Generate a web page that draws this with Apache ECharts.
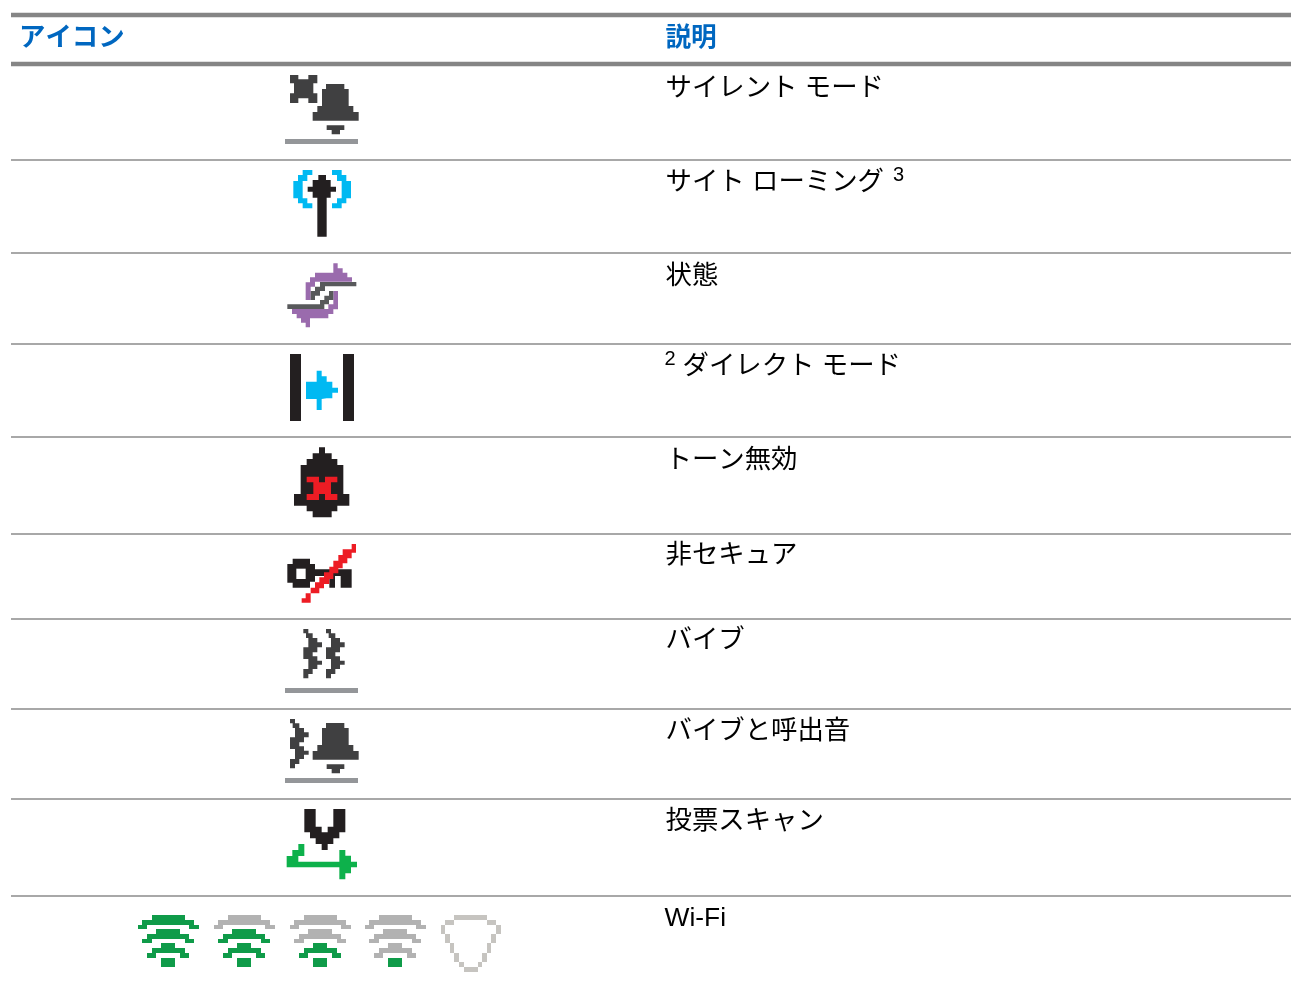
<!DOCTYPE html>
<html lang="ja">
<head>
<meta charset="utf-8">
<title>アイコン</title>
<style>html,body{margin:0;padding:0;background:#fff}#c{width:1291px;height:994px}</style>
<script src="https://cdn.jsdelivr.net/npm/echarts@6/dist/echarts.min.js"></script>
</head>
<body>
<div id="c"></div>
<script>
// ---- table content ----
const columnHeaders = ['アイコン', '説明'];
const rowLabels = ['サイレント モード', 'サイト ローミング', '状態', 'ダイレクト モード', 'トーン無効', '非セキュア', 'バイブ', 'バイブと呼出音', '投票スキャン', 'Wi-Fi'];
const footnotes = ['3', '2'];
const headerRules = [15, 64];
const rowRules = [160, 253, 344, 437, 534, 619, 709, 799, 896];

// ---- palette ----
const C = { dark:'#404041', black:'#231f20', bar:'#949699', blue:'#00b9f2', purple:'#9a6bad', grey:'#58595b',
  red:'#ed1c24', green:'#0db14b', wifi:'#0f9b49', wifiOff:'#b2b2b2', shield:'#c6c4c0', white:'#ffffff' };

// ---- pixel-art outlines at 3x ----
const bellOutline = [[168,57],[223,57],[223,72],[236,72],[236,123],[250,123],[250,141],[266,141],[266,167],[128,167],[128,141],[142,141],[142,123],[156,123],[156,72],[168,72]];
const clapperOutline = [[170,181],[223,181],[223,195],[210,195],[210,208],[185,208],[185,195],[170,195]];
const xOutline = [[60,30],[85,30],[85,43],[115,43],[115,30],[142,30],[142,55],[130,55],[130,85],[142,85],[142,114],[115,114],[115,100],[85,100],[85,114],[60,114],[60,85],[72,85],[72,55],[60,55]];
const barOutline = [[45,222],[264,222],[264,237],[45,237]];
const mastOutline = [[145,330],[168,330],[168,345],[182,345],[182,365],[198,365],[198,380],[182,380],[182,398],[170,398],[170,515],[142,515],[142,398],[128,398],[128,380],[113,380],[113,365],[128,365],[128,345],[145,345]];
const bracketLeft = [[98,315],[127,315],[127,330],[112,330],[112,348],[98,348],[98,400],[112,400],[112,415],[127,415],[127,430],[98,430],[98,415],[84,415],[84,400],[70,400],[70,348],[84,348],[84,330],[98,330]];
const bracketRight = [[215,315],[186,315],[186,330],[201,330],[201,348],[215,348],[215,400],[201,400],[201,415],[186,415],[186,430],[215,430],[215,415],[229,415],[229,400],[243,400],[243,348],[229,348],[229,330],[215,330]];
const swapUpper = [[190,25],[203,25],[203,40],[218,40],[218,53],[232,53],[232,67],[246,67],[246,80],[135,80],[135,95],[122,95],[122,135],[107,135],[107,82],[120,82],[120,67],[135,67],[135,53],[190,53]];
const swapLower = [[120,217],[107,217],[107,203],[93,203],[93,190],[80,190],[80,177],[66,177],[66,162],[175,162],[175,148],[190,148],[190,108],[204,108],[204,163],[190,163],[190,177],[175,177],[175,190],[120,190]];
const swapLineUpper = [[150,81],[259,81],[259,94],[165,94],[165,108],[150,108],[150,122],[135,122],[135,135],[122,135],[122,108],[135,108],[135,95],[150,95]];
const swapLineLower = [[52,148],[150,148],[150,135],[163,135],[163,122],[177,122],[177,108],[190,108],[190,135],[177,135],[177,148],[163,148],[163,162],[52,162]];
const directLeft = [[60,297],[93,297],[93,498],[60,498]];
const directRight = [[219,297],[252,297],[252,498],[219,498]];
const directArrow = [[140,347],[155,347],[155,364],[170,364],[170,380],[187,380],[187,398],[204,398],[204,413],[187,413],[187,430],[170,430],[155,432],[155,465],[140,465],[140,432],[108,432],[108,380],[140,380]];
const toneBell = [[147,22],[165,22],[165,40],[185,40],[185,57],[202,57],[202,75],[220,75],[220,162],[238,162],[238,197],[202,197],[202,214],[185,214],[185,232],[128,232],[128,214],[110,214],[110,197],[72,197],[72,162],[92,162],[92,75],[110,75],[110,57],[128,57],[128,40],[147,40]];
const toneX = [[110,110],[147,110],[147,127],[165,127],[165,110],[202,110],[202,127],[183,127],[183,162],[202,162],[202,180],[165,180],[165,162],[147,162],[147,180],[110,180],[110,162],[130,162],[130,127],[110,127]];
const keyOutline = [[68,356],[120,356],[120,372],[135,372],[135,388],[245,388],[245,443],[212,443],[212,408],[195,408],[195,443],[178,443],[178,408],[135,408],[135,425],[120,425],[120,443],[68,443],[68,428],[52,428],[52,372],[68,372]];
const keyHole = [[79,386],[107,386],[107,417],[79,417]];
const keySlash = [[95,475],[107,475],[107,460],[122,460],[122,443],[135,443],[135,427],[148,427],[148,412],[162,412],[162,397],[178,397],[178,380],[190,380],[190,362],[205,362],[205,345],[218,345],[218,328],[245,328],[245,312],[258,312],[258,338],[245,338],[245,355],[232,355],[232,370],[218,370],[218,385],[205,385],[205,400],[190,400],[190,417],[178,417],[178,432],[162,432],[162,445],[148,445],[148,460],[122,460],[122,475],[122,488],[95,488]];
const vibOutline = [[100,27],[115,27],[115,40],[128,40],[128,54],[142,54],[142,67],[156,67],[156,82],[142,82],[142,97],[128,97],[128,109],[142,109],[142,122],[156,122],[156,134],[142,134],[142,147],[128,147],[128,162],[115,162],[115,175],[100,175],[100,147],[115,147],[115,117],[100,117],[100,82],[115,82],[115,54],[108,54],[108,40],[100,40]];
const scanV = [[103,27],[137,27],[137,80],[155,80],[155,97],[173,97],[173,80],[190,80],[190,27],[226,27],[226,97],[208,97],[208,115],[190,115],[190,132],[173,132],[173,150],[155,150],[155,132],[137,132],[137,115],[120,115],[120,97],[103,97]];
const scanArrow = [[85,132],[103,132],[103,168],[85,168],[85,185],[208,185],[208,150],[226,150],[226,167],[243,167],[243,185],[261,185],[261,202],[243,202],[243,220],[226,220],[226,238],[208,238],[208,202],[50,202],[50,168],[67,168],[67,150],[85,150]];
const arcOuter = [[66,30],[165,30],[165,45],[192,45],[192,60],[207,60],[207,72],[177,72],[177,60],[51,60],[51,72],[24,72],[24,60],[36,60],[36,45],[66,45]];
const arcMiddle = [[78,72],[150,72],[150,87],[177,87],[177,102],[192,102],[192,114],[165,114],[165,102],[66,102],[66,114],[36,114],[36,102],[51,102],[51,87],[78,87]];
const arcInner = [[93,114],[135,114],[135,129],[165,129],[165,144],[177,144],[177,159],[150,159],[150,144],[78,144],[78,159],[51,159],[51,144],[66,144],[66,129],[93,129]];
const wifiDot = [[93,159],[135,159],[135,186],[93,186]];
const shieldOuter = [[972,30],[1071,30],[1071,45],[1098,45],[1098,60],[1113,60],[1113,87],[1098,87],[1098,114],[1083,114],[1083,144],[1071,144],[1071,171],[1056,171],[1056,186],[1044,186],[1044,201],[1002,201],[1002,186],[987,186],[987,171],[972,171],[972,144],[960,144],[960,114],[945,114],[945,87],[933,87],[933,60],[945,60],[945,45],[972,45]];
const shieldInner = [[972,45],[1071,45],[1071,60],[1098,60],[1098,87],[1083,87],[1083,114],[1071,114],[1071,144],[1056,144],[1056,171],[1044,171],[1044,186],[1002,186],[1002,171],[987,171],[987,144],[972,144],[972,114],[960,114],[960,87],[945,87],[945,60],[972,60]];

// outline, colour, crop origin, extra offset in traced units
const shapes = [];
function add(pts, color, ox, oy, dx, dy){ shapes.push({pts:pts.map(p=>[ox+(p[0]+(dx||0))/3, oy+(p[1]+(dy||0))/3]), color}); }
function ringBell(ox, oy){ add(bellOutline,C.dark,ox,oy); add(clapperOutline,C.dark,ox,oy); add(barOutline,C.bar,ox,oy); }
// silent mode
add(xOutline,C.dark,270,65); ringBell(270,65);
// site roaming
add(bracketLeft,C.blue,270,65); add(bracketRight,C.blue,270,65); add(mastOutline,C.black,270,65);
// status
add(swapUpper,C.purple,270,255); add(swapLower,C.purple,270,255); add(swapLineUpper,C.grey,270,255); add(swapLineLower,C.grey,270,255);
// direct mode
add(directLeft,C.black,270,255); add(directRight,C.black,270,255); add(directArrow,C.blue,270,255);
// tone off
add(toneBell,C.black,270,440); add(toneX,C.red,270,440);
// not secure
add(keyOutline,C.black,270,440); add(keyHole,C.white,270,440); add(keySlash,C.red,270,440);
// vibrate
add(vibOutline,C.dark,270,620); add(vibOutline,C.dark,270,620,68,0); add(barOutline,C.bar,270,620,0,-18);
// vibrate and ring
add(vibOutline,C.dark,270,620,-40,270); ringBell(270,704);
// vote scan
add(scanV,C.black,270,800); add(scanArrow,C.green,270,800);
// wifi levels
[[C.wifi,C.wifi,C.wifi,0],[C.wifiOff,C.wifi,C.wifi,228],[C.wifiOff,C.wifiOff,C.wifi,456],[C.wifiOff,C.wifiOff,C.wifiOff,681]].forEach(l=>{
  add(arcOuter,l[0],130,905,l[3]); add(arcMiddle,l[1],130,905,l[3]); add(arcInner,l[2],130,905,l[3]); add(wifiDot,C.wifi,130,905,l[3]);
});
add(shieldOuter,C.shield,130,905); add(shieldInner,C.white,130,905);

// ---- texts ----
const FONT = '"Liberation Sans","Noto Sans CJK JP",sans-serif';
const rowTextY = [89,183,277,367,461,556,641,732,822,919];
const rowTextX = [665.5,665.5,665.5,682.5,665.5,665.5,665.5,665.5,665.5,664.5];
const texts = [
  {x:19, y:39, t:columnHeaders[0], font:'bold 26.4px '+FONT, fill:'#0067c0'},
  {x:665.5,y:39, t:columnHeaders[1], font:'bold 25.6px '+FONT, fill:'#0067c0'},
  ...rowLabels.map((t,i)=>({x:rowTextX[i], y:rowTextY[i], t, font:'26.4px '+FONT, fill:'#000000'})),
  {x:893,y:175, t:footnotes[0], font:'20px '+FONT, fill:'#000000'},
  {x:664.5,y:359, t:footnotes[1], font:'20px '+FONT, fill:'#000000'}
];

const rules = [...headerRules.map(y=>({y,h:4.5,col:'#858585'})), ...rowRules.map(y=>({y,h:2,col:'#a8a8a8'}))];

const chart = echarts.init(document.getElementById('c'), null, {renderer:'canvas'});
chart.setOption({
  animation:false,
  backgroundColor:'#ffffff',
  grid:{left:0,right:0,top:0,bottom:0},
  xAxis:{type:'value',min:0,max:1291,show:false},
  yAxis:{type:'value',min:0,max:994,inverse:true,show:false},
  series:[
    { type:'custom', silent:true, clip:false, coordinateSystem:'cartesian2d',
      data:rules.map(r=>[11,r.y]),
      renderItem(params,api){
        const r=rules[params.dataIndex], a=api.coord([api.value(0),api.value(1)]), b=api.coord([1291,api.value(1)]);
        return {type:'rect',shape:{x:a[0],y:a[1]-r.h/2,width:b[0]-a[0],height:r.h},style:{fill:r.col}};
      }},
    { type:'custom', silent:true, clip:false, coordinateSystem:'cartesian2d',
      data:shapes.map(s=>[s.pts[0][0],s.pts[0][1]]),
      renderItem(params,api){
        const s=shapes[params.dataIndex];
        return {type:'polygon',shape:{points:s.pts.map(p=>api.coord(p))},style:{fill:s.color}};
      }},
    { type:'custom', silent:true, clip:false, coordinateSystem:'cartesian2d',
      data:texts.map(t=>[t.x,t.y]),
      renderItem(params,api){
        const t=texts[params.dataIndex], p=api.coord([t.x,t.y]);
        return {type:'text',style:{x:p[0],y:p[1],text:t.t,font:t.font,fill:t.fill,align:'left',verticalAlign:'middle'}};
      }}
  ]
});
</script>
</body>
</html>
